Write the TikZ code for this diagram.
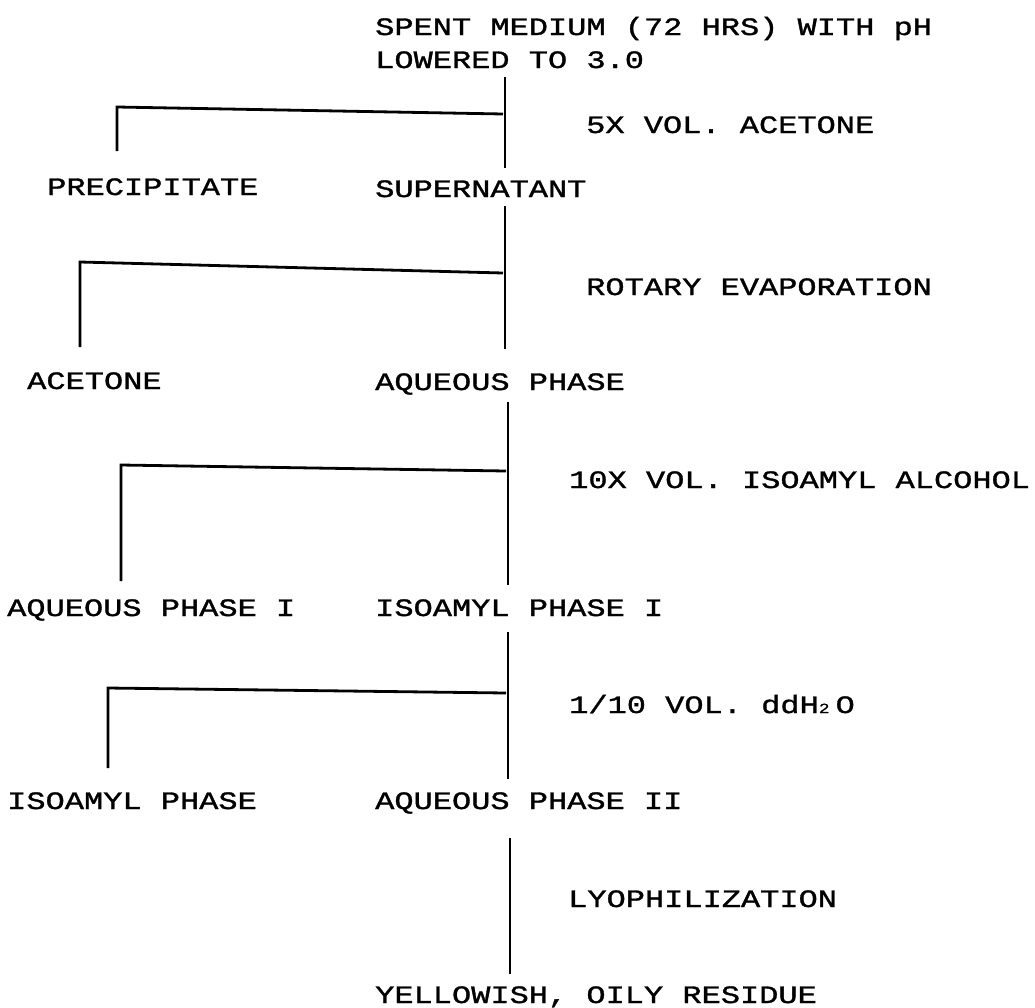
\documentclass[tikz,border=0pt]{standalone}
\usepackage{fontspec}
\newfontfamily\labfont[FakeBold=1.3,FakeStretch=1.28]{Liberation Mono}
\newfontfamily\subfont[FakeBold=1.0,FakeStretch=1.28]{Liberation Mono}
\begin{document}
\begin{tikzpicture}[x=1pt,y=-1pt,
  lab/.style={anchor=base west,inner sep=0pt,font=\labfont\fontsize{25}{30}\selectfont},
  conn/.style={line width=2.8pt,line cap=butt,line join=miter}]
\useasboundingbox (0,0) rectangle (1035,1007);
\fill[white] (0,0) rectangle (1035,1007);
% text nodes
\node[lab] (top1) at (375,35) {SPENT MEDIUM (72 HRS) WITH pH};
\node[lab] (top2) at (375,68) {LOWERED TO 3.0};
\node[lab] (r1) at (586,133) {5X VOL. ACETONE};
\node[lab] (l1) at (47,195) {PRECIPITATE};
\node[lab] (m1) at (375,197) {SUPERNATANT};
\node[lab] (r2) at (586,295) {ROTARY EVAPORATION};
\node[lab] (l2) at (27,389) {ACETONE};
\node[lab] (m2) at (375,390) {AQUEOUS PHASE};
\node[lab] (r3) at (569,488) {10X VOL. ISOAMYL ALCOHOL};
\node[lab] (l3) at (7,616) {AQUEOUS PHASE I};
\node[lab] (m3) at (375,616) {ISOAMYL PHASE I};
\node[lab] (r4) at (569,713) {1/10 VOL. ddH{\subfont\fontsize{14}{14}\selectfont 2}\hspace{6pt}O};
\node[lab] (l4) at (7,809) {ISOAMYL PHASE};
\node[lab] (m4) at (375,809) {AQUEOUS PHASE II};
\node[lab] (r5) at (568,907) {LYOPHILIZATION};
\node[lab] (m5) at (375,1003) {YELLOWISH, OILY RESIDUE};
% connector end points
\coordinate (v1a) at (505,77);  \coordinate (v1b) at (505,168);
\coordinate (h1a) at (503,114); \coordinate (h1b) at (117,107); \coordinate (h1c) at (117,151);
\coordinate (v2a) at (505,206); \coordinate (v2b) at (505,349);
\coordinate (h2a) at (503,273); \coordinate (h2b) at (80,262);  \coordinate (h2c) at (80,347);
\coordinate (v3a) at (508,402); \coordinate (v3b) at (508,585);
\coordinate (h3a) at (506,471); \coordinate (h3b) at (121,465); \coordinate (h3c) at (121,581);
\coordinate (v4a) at (508,632); \coordinate (v4b) at (508,779);
\coordinate (h4a) at (506,693); \coordinate (h4b) at (108,688); \coordinate (h4c) at (108,768);
\coordinate (v5a) at (510,838); \coordinate (v5b) at (510,974);
% connectors
\draw[conn] (v1a) -- (v1b);
\draw[conn] (h1a) -- (h1b) -- (h1c);
\draw[conn] (v2a) -- (v2b);
\draw[conn] (h2a) -- (h2b) -- (h2c);
\draw[conn] (v3a) -- (v3b);
\draw[conn] (h3a) -- (h3b) -- (h3c);
\draw[conn] (v4a) -- (v4b);
\draw[conn] (h4a) -- (h4b) -- (h4c);
\draw[conn] (v5a) -- (v5b);
\end{tikzpicture}
\end{document}
